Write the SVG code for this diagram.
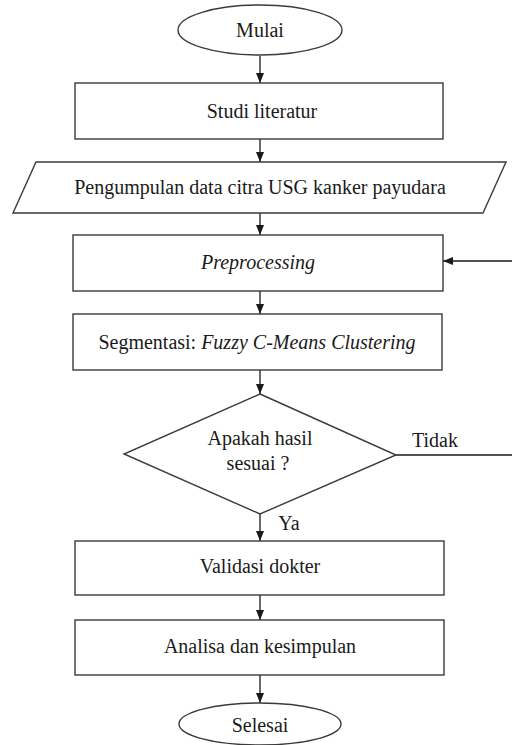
<svg xmlns="http://www.w3.org/2000/svg" width="512" height="745" viewBox="0 0 512 745">
<style>
.shape{fill:#fff;stroke:#3a3a3a;stroke-width:1.4}
.t{font-family:"Liberation Serif","Times New Roman",serif;font-size:20px;fill:#1a1a1a;text-anchor:middle}
.i{font-style:italic}
.c{fill:none;stroke:#1a1a1a;stroke-width:1.3}
</style>
<defs>
<marker id="ah" markerUnits="userSpaceOnUse" markerWidth="10" markerHeight="10" viewBox="0 0 10 10" refX="10" refY="5" orient="auto">
<path d="M0,1 L10,5 L0,9 Z" fill="#1a1a1a"/>
</marker>
</defs>
<rect width="512" height="745" fill="#fff"/>
<g id="connectors">
<line class="c" x1="260" y1="56" x2="260" y2="83" marker-end="url(#ah)"/>
<line class="c" x1="260" y1="139" x2="260" y2="162" marker-end="url(#ah)"/>
<line class="c" x1="260" y1="213" x2="260" y2="235" marker-end="url(#ah)"/>
<line class="c" x1="260" y1="291" x2="260" y2="314" marker-end="url(#ah)"/>
<line class="c" x1="260" y1="370" x2="260" y2="394" marker-end="url(#ah)"/>
<line class="c" x1="260" y1="514" x2="260" y2="541" marker-end="url(#ah)"/>
<line class="c" x1="260" y1="595" x2="260" y2="620" marker-end="url(#ah)"/>
<line class="c" x1="260" y1="675" x2="260" y2="703" marker-end="url(#ah)"/>
<path class="c" d="M396,455 H522 V261 H443" marker-end="url(#ah)"/>
<text class="t" x="435" y="447">Tidak</text>
<text class="t" x="289" y="530">Ya</text>
</g>
<g id="mulai">
<ellipse class="shape" cx="260" cy="30" rx="82" ry="25"/>
<text class="t" x="260" y="37">Mulai</text>
</g>
<g id="studi">
<rect class="shape" x="75" y="83" width="368" height="56"/>
<text class="t" x="262" y="118">Studi literatur</text>
</g>
<g id="pengumpulan">
<polygon class="shape" points="36,162 506,162 483,213 13,213"/>
<text class="t" x="260" y="194">Pengumpulan data citra USG kanker payudara</text>
</g>
<g id="preprocessing">
<rect class="shape" x="73" y="235" width="370" height="56"/>
<text class="t i" x="258" y="269">Preprocessing</text>
</g>
<g id="segmentasi">
<rect class="shape" x="73" y="314" width="369" height="56"/>
<text class="t" x="257" y="349">Segmentasi: <tspan class="i">Fuzzy C-Means Clustering</tspan></text>
</g>
<g id="keputusan">
<polygon class="shape" points="260,394 396,455 260,514 124,454"/>
<text class="t" x="260" y="445">Apakah hasil</text>
<text class="t" x="258" y="470">sesuai ?</text>
</g>
<g id="validasi">
<rect class="shape" x="75" y="541" width="369" height="54"/>
<text class="t" x="260" y="573">Validasi dokter</text>
</g>
<g id="analisa">
<rect class="shape" x="75" y="620" width="369" height="55"/>
<text class="t" x="260" y="653">Analisa dan kesimpulan</text>
</g>
<g id="selesai">
<ellipse class="shape" cx="260" cy="724" rx="81" ry="21"/>
<text class="t" x="260" y="732">Selesai</text>
</g>
</svg>
